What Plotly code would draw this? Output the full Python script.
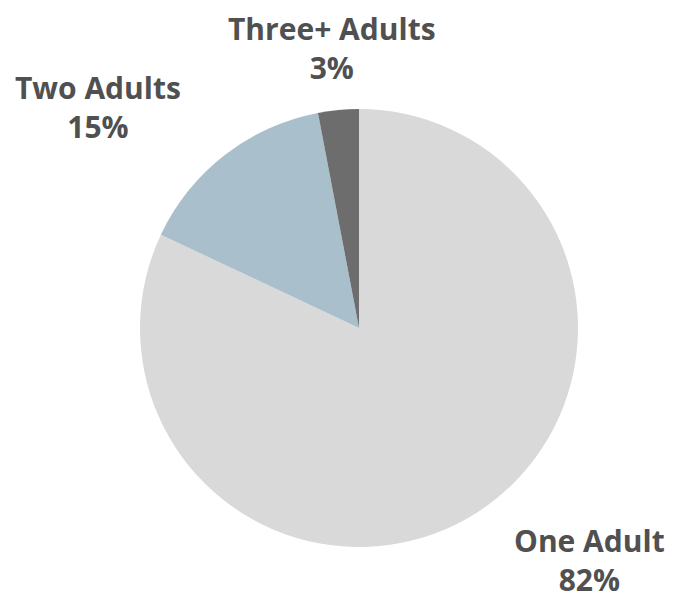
import plotly.graph_objects as go

labels = ["One Adult", "Two Adults", "Three+ Adults"]
values = [82, 15, 3]
colors = ["#d9d9d9", "#a9bfcb", "#6d6d6d"]

W, H = 677, 601
cx, cy, r = 359, 328, 219

fig = go.Figure(go.Pie(
    labels=labels, values=values, sort=False, direction="clockwise", rotation=0,
    marker=dict(colors=colors, line=dict(width=0)),
    textinfo="none", hoverinfo="label+percent",
    domain=dict(x=[(cx - r) / W, (cx + r) / W], y=[1 - (cy + r) / H, 1 - (cy - r) / H]),
    showlegend=False,
))

# label placement: (pixel x center, pixel y, y anchor)
label_pos = {"One Adult": (589, 601, "bottom"), "Two Adults": (98, 107, "middle"),
             "Three+ Adults": (332, 48, "middle")}
font = dict(family="Open Sans", size=30, color="#505050", weight=800)
anns = []
for lab, v in zip(labels, values):
    x, y, ya = label_pos[lab]
    anns.append(dict(x=x / W, y=1 - y / H, xref="paper", yref="paper",
                     text=f"<b>{lab}</b><br><b>{v}%</b>",
                     showarrow=False, xanchor="center", yanchor=ya, font=font, borderpad=0))

fig.update_layout(width=W, height=H, margin=dict(l=0, r=0, t=0, b=0),
                  paper_bgcolor="white", plot_bgcolor="white", annotations=anns)
fig.write_html("out.html", config={"displayModeBar": False},
               post_script="document.body.style.margin='0';document.body.style.overflow='hidden';")
